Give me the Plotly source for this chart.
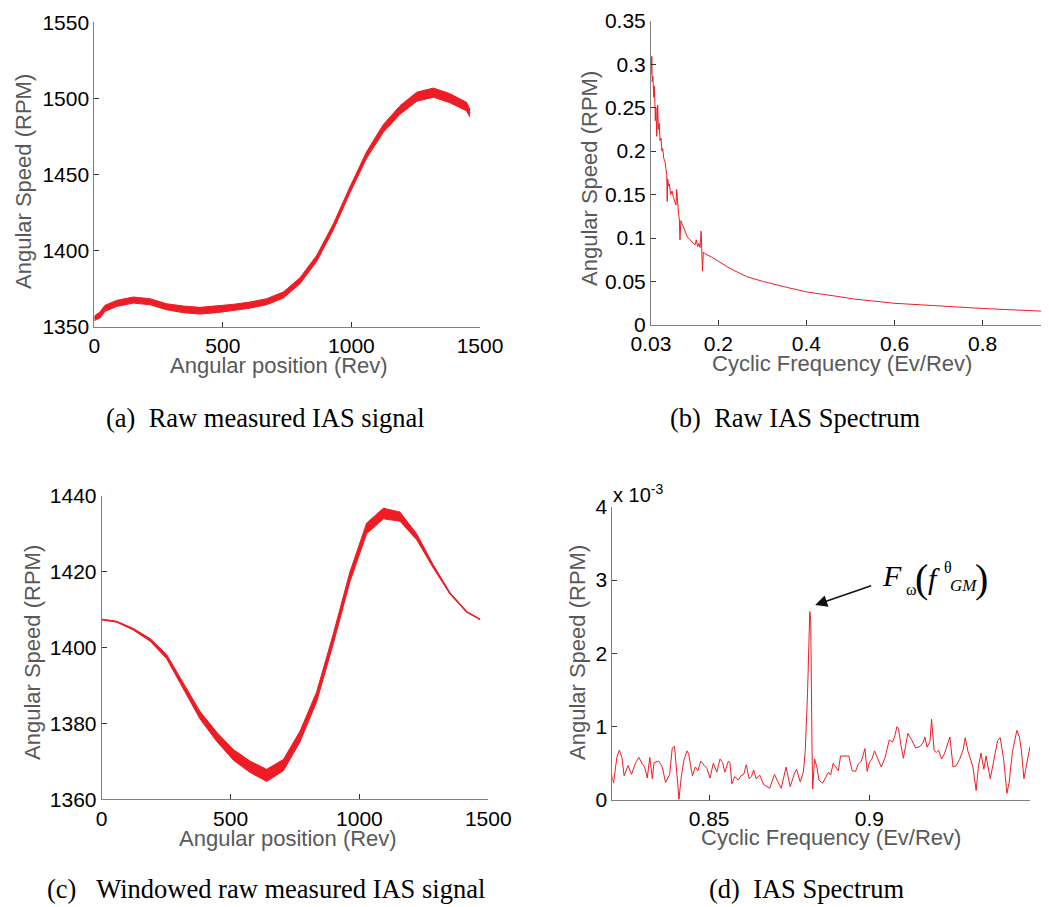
import plotly.graph_objects as go

# (a) raw measured IAS signal: centre line and half-width of the noise band
pos_a = [0, 22, 41, 87, 152, 217, 281, 346, 411, 476, 541, 605, 670, 735, 800,
         865, 930, 994, 1059, 1124, 1189, 1254, 1319, 1383, 1448, 1461]
speed_a = [1355.5, 1357.7, 1362.0, 1365.3, 1367.5, 1366.4, 1363.1, 1361.4, 1360.5,
           1361.4, 1362.7, 1364.2, 1366.4, 1370.8, 1380.2, 1394.9, 1415.7, 1439.8,
           1462.8, 1480.3, 1492.4, 1501.1, 1503.8, 1500.1, 1494.6, 1490.2]
spread_a = [1.5, 2, 2, 2, 2, 2, 2, 2.2, 2.2, 2.2, 2, 2, 2, 2, 2, 2, 2, 2,
            2.2, 2.5, 2.8, 3, 3, 3, 2.8, 2.5]

# (b) raw IAS spectrum
freq_b = [0.0472, 0.0490, 0.0500, 0.0515, 0.0535, 0.0550, 0.0570, 0.0585, 0.0602,
          0.0624, 0.0640, 0.0660, 0.0677, 0.0700, 0.0720, 0.0738, 0.0760, 0.0790,
          0.0810, 0.0829, 0.0840, 0.0851, 0.0870, 0.0888, 0.0920, 0.0950, 0.0979,
          0.1010, 0.1040, 0.1056, 0.1075, 0.1100, 0.1115, 0.1130, 0.1150, 0.1192,
          0.1244, 0.1300, 0.1358, 0.1420, 0.1471, 0.1500, 0.1530, 0.1560, 0.1585,
          0.1610, 0.1625, 0.1640, 0.1660, 0.1698, 0.1850, 0.2, 0.2266, 0.2645,
          0.3022, 0.3553, 0.4007, 0.4688, 0.5065, 0.5989, 0.6958, 0.8, 0.9302,
          0.9505]
amp_b = [0.288, 0.309, 0.280, 0.286, 0.262, 0.275, 0.235, 0.250, 0.217,
         0.253, 0.225, 0.232, 0.212, 0.215, 0.200, 0.203, 0.192, 0.188,
         0.180, 0.172, 0.142, 0.168, 0.160, 0.162, 0.150, 0.154, 0.147,
         0.143, 0.138, 0.156, 0.135, 0.126, 0.122, 0.098, 0.120, 0.114,
         0.108, 0.101, 0.098, 0.095, 0.092, 0.098, 0.090, 0.094, 0.089,
         0.108, 0.090, 0.062, 0.084, 0.082, 0.078, 0.073, 0.065, 0.0556,
         0.050, 0.0433, 0.038, 0.033, 0.030, 0.025, 0.022, 0.019, 0.016,
         0.015]
ticks_b = [0.0472, 0.2, 0.4, 0.6, 0.8]
ticktext_b = ["0.03", "0.2", "0.4", "0.6", "0.8"]

# (c) windowed raw IAS signal
pos_c = [0, 58, 123, 188, 252, 317, 381, 446, 511, 575, 640, 705, 769, 834, 899,
         963, 1028, 1093, 1157, 1222, 1287, 1351, 1416, 1468]
speed_c = [1407.4, 1406.8, 1404.8, 1402.0, 1397.6, 1389.7, 1382.2, 1376.5, 1371.7,
           1368.6, 1366.3, 1369.0, 1376.5, 1387.0, 1402.4, 1418.6, 1431.4, 1435.3,
           1434.5, 1429.2, 1421.3, 1414.3, 1409.4, 1407.4]
spread_c = [0.05, 0.1, 0.2, 0.35, 0.55, 0.75, 1.0, 1.2, 1.4, 1.5, 1.6, 1.5, 1.4,
            1.3, 1.3, 1.3, 1.4, 1.4, 1.2, 0.8, 0.4, 0.15, 0.05, 0.02]

# (d) IAS spectrum, amplitude in units of 1e-3 RPM
freq_d = [0.8194, 0.8202, 0.8212, 0.8220, 0.8228, 0.8235, 0.8247, 0.8258, 0.8271,
          0.8281, 0.8292, 0.8299, 0.8307, 0.8315, 0.8323, 0.8328, 0.8343, 0.8354,
          0.8364, 0.8377, 0.8385, 0.8392, 0.8400, 0.8406, 0.8413, 0.8421, 0.8431,
          0.8436, 0.8448, 0.8457, 0.8465, 0.8474, 0.8485, 0.8493, 0.8503, 0.8513,
          0.8524, 0.8534, 0.8542, 0.8549, 0.8560, 0.8565, 0.8571, 0.8580, 0.8591,
          0.8599, 0.8608, 0.8616, 0.8625, 0.8632, 0.8639, 0.8647, 0.8658, 0.8670,
          0.8689, 0.8704, 0.8714, 0.8725, 0.8740, 0.8753, 0.8766, 0.8773, 0.8784,
          0.8794, 0.8800, 0.8807, 0.8814, 0.8817, 0.8821, 0.8823, 0.8829, 0.8836,
          0.8843, 0.8854, 0.8864, 0.8872, 0.8879, 0.8887, 0.8895, 0.8903, 0.8910,
          0.8926, 0.8936, 0.8946, 0.8957, 0.8965, 0.8975, 0.8986, 0.8993, 0.9000,
          0.9008, 0.9016, 0.9027, 0.9037, 0.9049, 0.9062, 0.9072, 0.9078, 0.9086,
          0.9091, 0.9098, 0.9106, 0.9113, 0.9120, 0.9132, 0.9144, 0.9158, 0.9168,
          0.9173, 0.9180, 0.9189, 0.9194, 0.9202, 0.9209, 0.9216, 0.9225, 0.9235,
          0.9245, 0.9251, 0.9261, 0.9271, 0.9281, 0.9292, 0.9299, 0.9307, 0.9323,
          0.9333, 0.9340, 0.9348, 0.9357, 0.9364, 0.9377, 0.9385, 0.9400, 0.9408,
          0.9419, 0.9429, 0.9436, 0.9446, 0.9460, 0.9468, 0.9474, 0.9482, 0.9493,
          0.9501]
amp_d = [0.38, 0.23, 0.58, 0.68, 0.58, 0.33, 0.47, 0.35, 0.51,
         0.58, 0.49, 0.45, 0.30, 0.58, 0.29, 0.51, 0.53, 0.45,
         0.24, 0.35, 0.71, 0.73, 0.33, 0.01, 0.31, 0.54, 0.67,
         0.63, 0.33, 0.45, 0.40, 0.53, 0.47, 0.43, 0.30, 0.50,
         0.38, 0.56, 0.51, 0.38, 0.53, 0.51, 0.22, 0.32, 0.27,
         0.33, 0.35, 0.48, 0.29, 0.32, 0.41, 0.29, 0.34, 0.21,
         0.16, 0.35, 0.25, 0.16, 0.45, 0.18, 0.36, 0.42, 0.25,
         0.38, 0.68, 1.45, 2.57, 2.45, 0.72, 0.15, 0.56, 0.45,
         0.27, 0.23, 0.31, 0.38, 0.34, 0.50, 0.45, 0.40, 0.60,
         0.60, 0.60, 0.40, 0.39, 0.49, 0.53, 0.70, 0.39, 0.51,
         0.56, 0.67, 0.56, 0.45, 0.58, 0.82, 0.79, 0.85, 1.00,
         0.97, 0.76, 0.57, 0.74, 0.91, 0.82, 0.71, 0.73, 0.79,
         0.86, 0.72, 0.80, 1.10, 0.67, 0.65, 0.68, 0.56, 0.64,
         0.79, 0.86, 0.45, 0.47, 0.55, 0.68, 0.85, 0.67, 0.45,
         0.13, 0.45, 0.64, 0.42, 0.60, 0.29, 0.49, 0.81, 0.85,
         0.55, 0.09, 0.24, 0.65, 0.95, 0.86, 0.68, 0.29, 0.58,
         0.73]

RED = "#ee1d25"
AXIS_GRAY = "#808080"
TITLE_GRAY = "#595959"
SANS = "Liberation Sans, Arial, sans-serif"
SERIF = "Liberation Serif, Times New Roman, serif"

# the page body keeps its default 8px margin, so the figure is 8px smaller
OFF = 8
W, H = 1049 - OFF, 907 - OFF


def px(x, y):
    """Page pixel position to paper coordinates."""
    return (x - OFF) / W, 1 - (y - OFF) / H


def xdom(left, right):
    return [max(0, (left - OFF) / W), min(1, (right - OFF) / W)]


def ydom(bottom, top):
    return [1 - (bottom - OFF) / H, 1 - (top - OFF) / H]


def axis_style(**kw):
    base = dict(
        showline=True, linecolor=AXIS_GRAY, linewidth=1, mirror=False,
        ticks="inside", ticklen=5, tickcolor="#333333", tickwidth=1,
        showgrid=False, zeroline=False, automargin=False,
        tickfont=dict(family=SANS, size=21, color="black"),
    )
    base.update(kw)
    return base


def add_band(fig, x, y, spread, xa, ya):
    lower = [v - s for v, s in zip(y, spread)]
    upper = [v + s for v, s in zip(y, spread)]
    fig.add_trace(go.Scatter(x=x, y=lower, xaxis=xa, yaxis=ya, mode="lines",
                             line=dict(color=RED, width=1), hoverinfo="skip"))
    fig.add_trace(go.Scatter(x=x, y=upper, xaxis=xa, yaxis=ya, mode="lines",
                             line=dict(color=RED, width=1), fill="tonexty",
                             fillcolor=RED, hoverinfo="skip"))
    fig.add_trace(go.Scatter(x=x, y=y, xaxis=xa, yaxis=ya, mode="lines",
                             line=dict(color=RED, width=1.5)))


fig = go.Figure()
add_band(fig, pos_a, speed_a, spread_a, "x", "y")
fig.add_trace(go.Scatter(x=freq_b, y=amp_b, xaxis="x2", yaxis="y2", mode="lines",
                         line=dict(color=RED, width=1)))
add_band(fig, pos_c, speed_c, spread_c, "x3", "y3")
fig.add_trace(go.Scatter(x=freq_d, y=amp_d, xaxis="x4", yaxis="y4", mode="lines",
                         line=dict(color=RED, width=1)))

annotations = []


def text(x, y, s, size, family=SANS, color="black", angle=0):
    xp, yp = px(x, y)
    annotations.append(dict(x=xp, y=yp, xref="paper", yref="paper", text=s,
                            showarrow=False, xanchor="center", yanchor="middle",
                            textangle=angle,
                            font=dict(family=family, size=size, color=color)))


# axis titles
for x, y in [(279, 366), (288, 838)]:
    text(x, y, "Angular position (Rev)", 22, color=TITLE_GRAY)
for x, y in [(842, 363), (831, 837)]:
    text(x, y, "Cyclic Frequency (Ev/Rev)", 22, color=TITLE_GRAY)
for x, y in [(23, 182), (589, 179), (32, 653), (577, 653)]:
    text(x, y, "Angular Speed (RPM)", 22, color=TITLE_GRAY, angle=-90)

# captions
text(265, 418, "(a)\u00a0\u00a0Raw measured IAS signal", 26.5, family=SERIF)
text(795, 418, "(b)\u00a0\u00a0Raw IAS Spectrum", 26.5, family=SERIF)
text(266, 889, "(c)\u00a0\u00a0\u00a0Windowed raw measured IAS signal", 26.5, family=SERIF)
text(806, 889, "(d)\u00a0\u00a0IAS Spectrum", 26.5, family=SERIF)

# exponent label of panel (d)
text(638, 494, "x 10<sup>-3</sup>", 20)

# peak label F_w(f^theta_GM)
text(892, 575, "<i>F</i>", 30, family=SERIF)
text(911, 589, "\u03c9", 16, family=SERIF)
text(921, 578, "(", 40, family=SERIF)
text(934, 578, "<i>f</i>", 30, family=SERIF)
text(948, 567, "\u03b8", 16, family=SERIF)
text(963, 585, "<i>GM</i>", 17, family=SERIF)
text(981, 578, ")", 40, family=SERIF)

# arrow pointing at the gear mesh peak
annotations.append(dict(x=0.8831, y=2.66, xref="x4", yref="y4",
                        ax=0.9010, ay=2.93, axref="x4", ayref="y4",
                        text="", showarrow=True, arrowhead=2, arrowsize=1.6,
                        arrowwidth=1.5, arrowcolor="#111111"))

fig.update_layout(
    width=W, height=H,
    margin=dict(l=0, r=0, t=0, b=0),
    paper_bgcolor="white", plot_bgcolor="white",
    showlegend=False,
    xaxis=axis_style(domain=xdom(94.3, 480), range=[0, 1500], dtick=500, anchor="y"),
    yaxis=axis_style(domain=ydom(326.7, 22.3), range=[1350, 1550], dtick=50, anchor="x"),
    xaxis2=axis_style(domain=xdom(651, 1049), range=[0.0472, 0.9505],
                      tickvals=ticks_b, ticktext=ticktext_b, anchor="y2"),
    yaxis2=axis_style(domain=ydom(325, 20.7), range=[0, 0.35], dtick=0.05, anchor="x2"),
    xaxis3=axis_style(domain=xdom(101.7, 488.3), range=[0, 1500], dtick=500, anchor="y3"),
    yaxis3=axis_style(domain=ydom(799.3, 495.7), range=[1360, 1440], dtick=20, anchor="x3"),
    xaxis4=axis_style(domain=xdom(612.3, 1030), range=[0.8198, 0.9501],
                      tickvals=[0.85, 0.9], ticktext=["0.85", "0.9"], anchor="y4"),
    yaxis4=axis_style(domain=ydom(800, 506.7), range=[0, 4], dtick=1, anchor="x4"),
    annotations=annotations,
)

fig.write_html("out.html")
